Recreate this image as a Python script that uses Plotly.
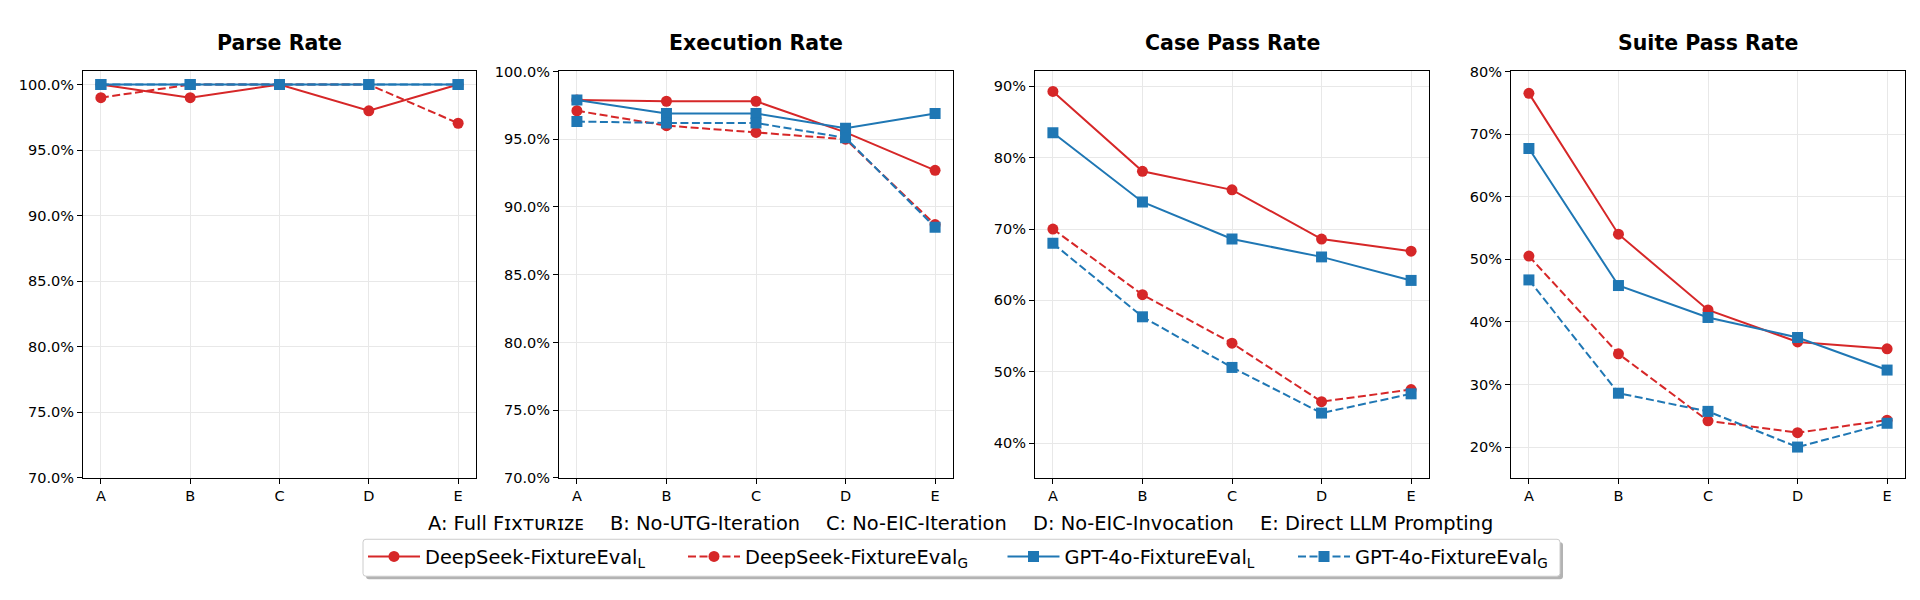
import plotly.graph_objects as go
from plotly.subplots import make_subplots

# ---------------- data ----------------
categories = ["A", "B", "C", "D", "E"]
panel_titles = ["Parse Rate", "Execution Rate", "Case Pass Rate", "Suite Pass Rate"]
series_names = [
    "DeepSeek-FixtureEval<sub>L</sub>",
    "DeepSeek-FixtureEval<sub>G</sub>",
    "GPT-4o-FixtureEval<sub>L</sub>",
    "GPT-4o-FixtureEval<sub>G</sub>",
]

parse_deepseek_L = [100.0, 99.0, 100.0, 98.0, 100.0]
parse_deepseek_G = [99.0, 100.0, 100.0, 100.0, 97.05]
parse_gpt_L = [100.0, 100.0, 100.0, 100.0, 100.0]
parse_gpt_G = [100.0, 100.0, 100.0, 100.0, 100.0]

exec_deepseek_L = [97.9, 97.8, 97.8, 95.5, 92.7]
exec_deepseek_G = [97.1, 96.0, 95.5, 95.0, 88.7]
exec_gpt_L = [97.9, 96.9, 96.9, 95.8, 96.9]
exec_gpt_G = [96.3, 96.2, 96.2, 95.1, 88.5]

case_deepseek_L = [89.3, 78.1, 75.5, 68.6, 66.9]
case_deepseek_G = [70.0, 60.8, 54.0, 45.8, 47.5]
case_gpt_L = [83.5, 73.8, 68.6, 66.1, 62.8]
case_gpt_G = [68.0, 57.7, 50.6, 44.2, 46.9]

suite_deepseek_L = [76.5, 54.0, 41.9, 36.8, 35.7]
suite_deepseek_G = [50.5, 34.9, 24.2, 22.3, 24.3]
suite_gpt_L = [67.7, 45.8, 40.7, 37.5, 32.3]
suite_gpt_G = [46.7, 28.6, 25.7, 20.0, 23.8]

y_ticks_parse = [70, 75, 80, 85, 90, 95, 100]
y_ticks_exec = [70, 75, 80, 85, 90, 95, 100]
y_ticks_case = [40, 50, 60, 70, 80, 90]
y_ticks_suite = [20, 30, 40, 50, 60, 70, 80]

ablation_labels = [
    "A: Full F\u026ax\u1d1b\u1d1c\u0280\u026a\u1d22\u1d07",
    "B: No-UTG-Iteration",
    "C: No-EIC-Iteration",
    "D: No-EIC-Invocation",
    "E: Direct LLM Prompting",
]

panels = [
    [parse_deepseek_L, parse_deepseek_G, parse_gpt_L, parse_gpt_G],
    [exec_deepseek_L, exec_deepseek_G, exec_gpt_L, exec_gpt_G],
    [case_deepseek_L, case_deepseek_G, case_gpt_L, case_gpt_G],
    [suite_deepseek_L, suite_deepseek_G, suite_gpt_L, suite_gpt_G],
]
panel_ticks = [y_ticks_parse, y_ticks_exec, y_ticks_case, y_ticks_suite]

# ---------------- styling ----------------
OFF = 8                      # default page body margin
W, H = 1920 - 2 * OFF, 600 - 2 * OFF

def X(px):
    return (px - OFF) / W

def Y(py):
    return 1 - (py - OFF) / H

RED = "#d62728"
BLUE = "#1f77b4"
FONT = "DejaVu Sans"
styles = [
    dict(color=RED, dash="solid", symbol="circle"),
    dict(color=RED, dash="8px,3.5px", symbol="circle"),
    dict(color=BLUE, dash="solid", symbol="square"),
    dict(color=BLUE, dash="8px,3.5px", symbol="square"),
]
legend_ids = ["legend", "legend2", "legend3", "legend4"]
legend_symbol_x = [368, 688, 1007.5, 1298]

y_ranges = [[70, 101], [70, 100], [35.1, 92.1], [15.06, 80]]
y_decimals = [1, 1, 0, 0]
x_px = [(83, 476), (559, 953), (1035, 1429), (1511, 1905)]
y_px = (65, 483)

fig = make_subplots(rows=1, cols=4)

for p, data in enumerate(panels):
    for s, vals in enumerate(data):
        st = styles[s]
        fig.add_trace(
            go.Scatter(
                x=categories, y=vals, mode="lines+markers",
                name=series_names[s], legendgroup=str(s), showlegend=(p == 0),
                legend=legend_ids[s],
                line=dict(color=st["color"], width=2, dash=st["dash"]),
                marker=dict(symbol=st["symbol"], size=11, color=st["color"],
                            line=dict(width=0)),
            ),
            row=1, col=p + 1,
        )

axis_common = dict(
    showline=True, linecolor="black", linewidth=1, mirror=True,
    ticks="outside", ticklen=5, tickcolor="black", tickwidth=1,
    showgrid=True, gridcolor="#e8e8e8", gridwidth=1, zeroline=False,
    tickfont=dict(family=FONT, size=14.5, color="black"),
)

annotations = []
for p in range(4):
    xa = "xaxis" if p == 0 else f"xaxis{p+1}"
    ya = "yaxis" if p == 0 else f"yaxis{p+1}"
    x0, x1 = x_px[p]
    fig.layout[xa].update(
        domain=[X(x0), X(x1)], range=[-0.2, 4.2], type="category", **axis_common
    )
    ticks = panel_ticks[p]
    d = y_decimals[p]
    fig.layout[ya].update(
        domain=[Y(y_px[1]), Y(y_px[0])], range=y_ranges[p],
        tickmode="array", tickvals=ticks,
        ticktext=[f"{t:.{d}f}%" for t in ticks], **axis_common
    )
    annotations.append(dict(
        text=f"<b>{panel_titles[p]}</b>", x=X((x0 + x1) / 2), y=Y(35.5),
        xref="paper", yref="paper", xanchor="center", yanchor="middle",
        showarrow=False, font=dict(family=FONT, size=20.5, color="black"),
    ))

label_x = [427, 608.5, 825, 1032, 1258.5]
for lx, txt in zip(label_x, ablation_labels):
    annotations.append(dict(
        text=txt, x=X(lx), y=Y(530), xref="paper", yref="paper",
        xanchor="left", yanchor="middle", showarrow=False, borderpad=0,
        font=dict(family=FONT, size=19.4, color="black"),
    ))

# legend frame (matplotlib-style with shadow)
bx0, bx1, by0, by1 = 363, 1560, 546, 584

def rounded(x0, y0, x1, y1, r=3):
    return (f"M{X(x0+r)},{Y(y0)} L{X(x1-r)},{Y(y0)} Q{X(x1)},{Y(y0)} {X(x1)},{Y(y0+r)} "
            f"L{X(x1)},{Y(y1-r)} Q{X(x1)},{Y(y1)} {X(x1-r)},{Y(y1)} L{X(x0+r)},{Y(y1)} "
            f"Q{X(x0)},{Y(y1)} {X(x0)},{Y(y1-r)} L{X(x0)},{Y(y0+r)} Q{X(x0)},{Y(y0)} {X(x0+r)},{Y(y0)} Z")

shapes = [
    dict(type="path", xref="paper", yref="paper", path=rounded(bx0 + 3, by0 + 3, bx1 + 3, by1 + 3),
         fillcolor="rgba(128,128,128,0.6)", line=dict(width=0), layer="above"),
    dict(type="path", xref="paper", yref="paper", path=rounded(bx0, by0, bx1, by1),
         fillcolor="white", line=dict(color="#cccccc", width=1), layer="above"),
]

legend_layout = {}
for lid, sx in zip(legend_ids, legend_symbol_x):
    legend_layout[lid] = dict(
        orientation="h", x=X(sx - 5), xanchor="left", y=Y(564), yanchor="middle",
        bgcolor="rgba(0,0,0,0)", borderwidth=0,
        font=dict(family=FONT, size=19.4, color="black"),
        itemwidth=52,
    )

fig.update_layout(
    width=W, height=H, margin=dict(l=0, r=0, t=0, b=0),
    paper_bgcolor="white", plot_bgcolor="white",
    font=dict(family=FONT, color="black"),
    annotations=annotations, shapes=shapes,
    **legend_layout,
)

fig.write_html("out.html")
